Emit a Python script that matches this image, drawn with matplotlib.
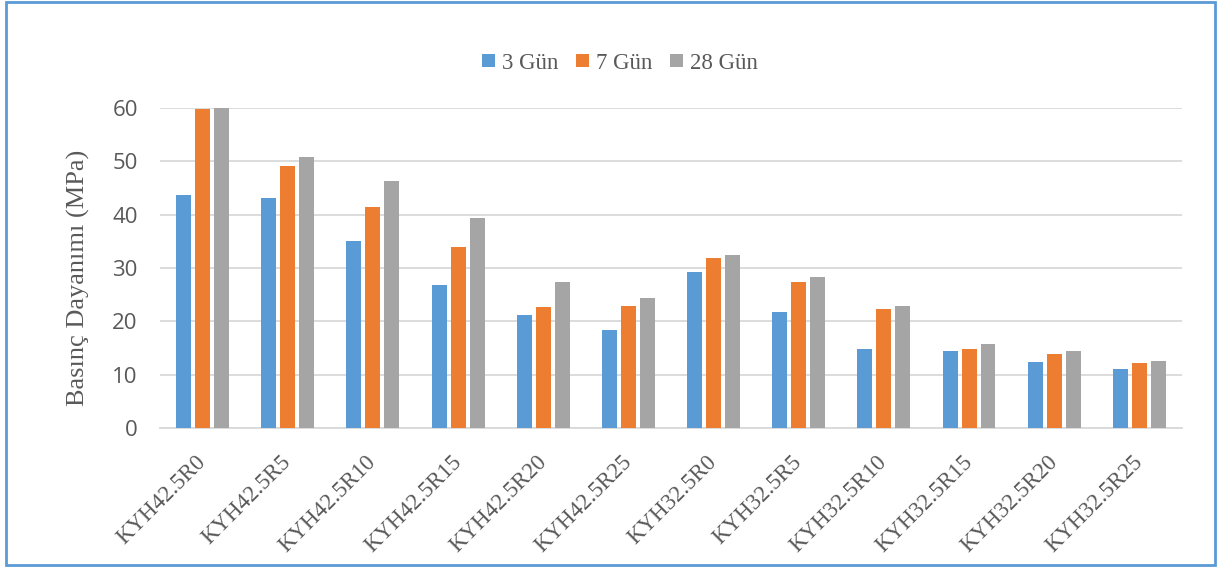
import matplotlib
matplotlib.use("Agg")
import matplotlib.pyplot as plt
import numpy as np
from matplotlib.patches import Rectangle

# Basınç dayanımı verileri (MPa)
numuneler = ["KYH42.5R0", "KYH42.5R5", "KYH42.5R10", "KYH42.5R15", "KYH42.5R20", "KYH42.5R25",
             "KYH32.5R0", "KYH32.5R5", "KYH32.5R10", "KYH32.5R15", "KYH32.5R20", "KYH32.5R25"]
gun_3 = [43.6, 43.2, 35.0, 26.8, 21.2, 18.4, 29.2, 21.7, 14.8, 14.4, 12.4, 11.1]
gun_7 = [59.8, 49.1, 41.4, 34.0, 22.7, 22.9, 31.9, 27.4, 22.3, 14.9, 13.9, 12.2]
gun_28 = [60.2, 50.9, 46.4, 39.3, 27.4, 24.4, 32.4, 28.3, 22.9, 15.8, 14.4, 12.6]
seriler = ["3 Gün", "7 Gün", "28 Gün"]

RENKLER = ["#5B9BD5", "#ED7D31", "#A5A5A5"]
YAZI = "#595959"
SERIF = ["Liberation Serif", "DejaVu Serif"]

fig = plt.figure(figsize=(12.18, 5.69), dpi=100)
ax = fig.add_axes([0.1314, 0.2478, 0.8390, 0.5624])

x = np.arange(len(numuneler))
adim = 0.223
for i, (deger, ad) in enumerate(zip([gun_3, gun_7, gun_28], seriler)):
    ax.bar(x + (i - 1) * adim, deger, width=0.175, color=RENKLER[i], label=ad, zorder=3)

ax.set_xlim(-0.5, len(numuneler) - 0.5)
ax.set_ylim(0, 60)
ax.set_yticks(range(0, 61, 10))
ax.grid(axis="y", color="#D9D9D9", linewidth=1.3, zorder=0)
for s in ["top", "right", "left"]:
    ax.spines[s].set_visible(False)
ax.spines["bottom"].set_color("#D9D9D9")
ax.spines["bottom"].set_linewidth(1.3)
ax.tick_params(axis="both", length=0)
ax.tick_params(axis="y", pad=16, labelsize=16, labelcolor=YAZI)
for t in ax.get_yticklabels():
    t.set_family("Open Sans")

ax.set_xticks(x)
ax.set_xticklabels(numuneler, rotation=45, ha="right", va="center",
                   rotation_mode="anchor", family=SERIF, fontsize=16.5, color=YAZI)
ax.tick_params(axis="x", pad=22)

ax.set_ylabel("Basınç Dayanımı (MPa)", family=SERIF, fontsize=19, color=YAZI)
ax.yaxis.set_label_coords(-0.069, 0.469)

ax.legend(loc="center", bbox_to_anchor=(0.509, 0.889), bbox_transform=fig.transFigure,
          ncol=3, frameon=False, prop={"family": SERIF, "size": 16.5},
          handlelength=0.55, handleheight=0.55, handletextpad=0.3, columnspacing=0.8,
          labelcolor=YAZI)

# Grafik çerçevesi
fig.patches.append(Rectangle((6 / 1218, 4 / 569), 1209 / 1218, 563 / 569,
                             transform=fig.transFigure, fill=False,
                             edgecolor="#5B9BD5", linewidth=2))

fig.savefig("out.png", dpi=100)
